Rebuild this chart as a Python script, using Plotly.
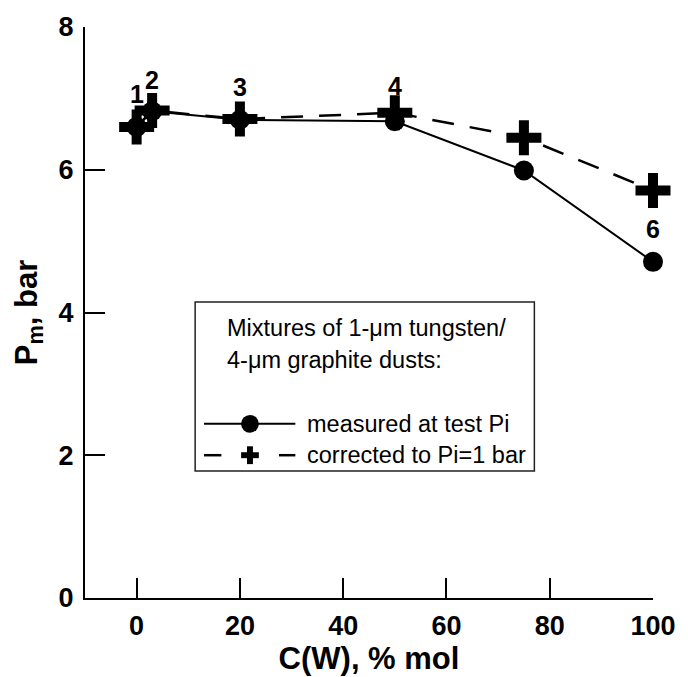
import plotly.graph_objects as go

# ---------------- data ----------------
x_vals = [0, 3, 20, 50, 75, 100]
measured = [6.60, 6.82, 6.70, 6.68, 5.99, 4.71]
corrected = [6.60, 6.83, 6.71, 6.80, 6.45, 5.71]

point_labels = ["1", "2", "3", "4", "6"]
label_x = [0, 3, 20, 50, 100]
label_y = [7.06, 7.26, 7.16, 7.18, 5.17]

x_ticks = [0, 20, 40, 60, 80, 100]
y_ticks = [0, 2, 4, 6, 8]

legend_title = ["Mixtures of 1-\u03bcm tungsten/", "4-\u03bcm graphite dusts:"]
series_names = ["measured at test Pi", "corrected to Pi=1 bar"]

# ---------------- layout geometry ----------------
W, H = 688, 677
ML, MR, MT, MB = 85, 27, 24, 76
PW = W - ML - MR
PH = H - MT - MB
FONT = "Liberation Sans, Arial, sans-serif"


def fx(px):
    return (px - ML) / PW


def fy(py):
    return (H - MB - py) / PH


fig = go.Figure()

fig.add_trace(go.Scatter(
    x=x_vals, y=corrected, name=series_names[1], mode="lines+markers",
    line=dict(color="black", width=2.5, dash="22px,16px"),
    marker=dict(symbol="cross-thin-open", size=25, color="black",
                line=dict(color="black", width=10)),
    cliponaxis=False, showlegend=False))

fig.add_trace(go.Scatter(
    x=x_vals, y=measured, name=series_names[0], mode="lines+markers",
    line=dict(color="black", width=2),
    marker=dict(symbol="circle", size=20, color="black"),
    cliponaxis=False, showlegend=False))

annotations = []
for t, lx, ly in zip(point_labels, label_x, label_y):
    annotations.append(dict(x=lx, y=ly, xref="x", yref="y", text=t, showarrow=False,
                            font=dict(family=FONT, size=25, color="black", weight="bold"),
                            xanchor="center", yanchor="middle"))

# legend text
leg_text_y = [328, 360]
for t, py in zip(legend_title, leg_text_y):
    annotations.append(dict(x=fx(226.7), y=fy(py), xref="paper", yref="paper", text=t,
                            showarrow=False, xanchor="left", yanchor="middle",
                            font=dict(family=FONT, size=23.5, color="black")))
item_y = [425, 456.7]
for t, py in zip(series_names, item_y):
    annotations.append(dict(x=fx(308.3), y=fy(py), xref="paper", yref="paper", text=t,
                            showarrow=False, xanchor="left", yanchor="middle",
                            font=dict(family=FONT, size=23.5, color="black")))

shapes = []
# legend box
shapes.append(dict(type="rect", xref="paper", yref="paper",
                   x0=fx(196.7), x1=fx(540.7), y0=fy(472.7), y1=fy(302),
                   line=dict(color="#222", width=1.5), fillcolor="rgba(0,0,0,0)"))
# solid sample
ys = fy(item_y[0])
shapes.append(dict(type="line", xref="paper", yref="paper",
                   x0=fx(205.7), x1=fx(298.3), y0=ys, y1=ys,
                   line=dict(color="black", width=2)))
shapes.append(dict(type="circle", xref="paper", yref="paper",
                   x0=fx(243.3), x1=fx(261.3), y0=fy(item_y[0] + 9), y1=fy(item_y[0] - 9),
                   fillcolor="black", line=dict(color="black", width=0)))
# dashed sample
yd = fy(item_y[1])
for a, b in [(205.7, 223.3), (281.7, 298.3)]:
    shapes.append(dict(type="line", xref="paper", yref="paper",
                       x0=fx(a), x1=fx(b), y0=yd, y1=yd,
                       line=dict(color="black", width=2.5)))
cx, cy = 252.3, item_y[1]
shapes.append(dict(type="rect", xref="paper", yref="paper",
                   x0=fx(cx - 9), x1=fx(cx + 9), y0=fy(cy + 3), y1=fy(cy - 3),
                   fillcolor="black", line=dict(width=0)))
shapes.append(dict(type="rect", xref="paper", yref="paper",
                   x0=fx(cx - 3), x1=fx(cx + 3), y0=fy(cy + 9), y1=fy(cy - 9),
                   fillcolor="black", line=dict(width=0)))

axis_common = dict(showline=True, linecolor="black", linewidth=2, ticks="inside",
                   ticklen=20, tickwidth=1.5, tickcolor="black", showgrid=False,
                   zeroline=False, mirror=False,
                   tickfont=dict(family=FONT, size=27, color="black", weight="bold"))

fig.update_layout(
    width=W, height=H, autosize=False,
    margin=dict(l=ML, r=MR, t=MT, b=MB),
    paper_bgcolor="white", plot_bgcolor="white",
    showlegend=False,
    xaxis=dict(range=[-10, 100], tickvals=x_ticks, ticklabelstandoff=3,
               title=dict(text="C(W), % mol", standoff=2,
                          font=dict(family=FONT, size=31, color="black", weight="bold")),
               **axis_common),
    yaxis=dict(range=[0, 8], tickvals=y_ticks, ticklabelstandoff=4,
               title=dict(text="P<sub>m</sub>, bar", standoff=12,
                          font=dict(family=FONT, size=31, color="black", weight="bold")),
               **axis_common),
    annotations=annotations,
    shapes=shapes,
)

fig.write_html("out.html")
